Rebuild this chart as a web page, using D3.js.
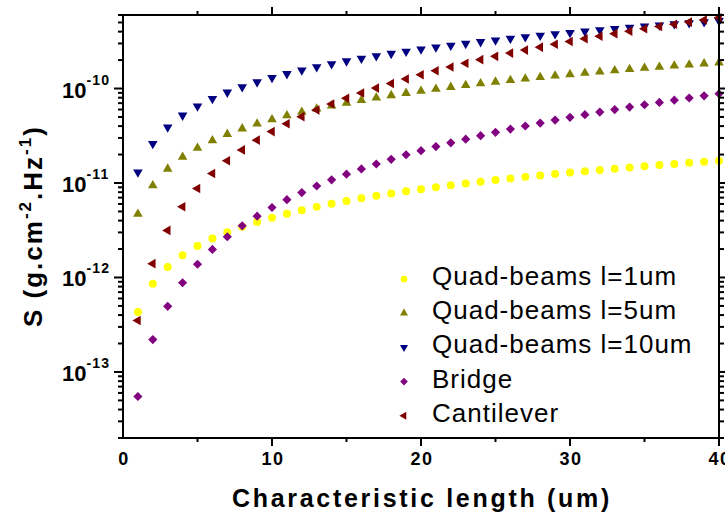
<!DOCTYPE html>
<html>
<head>
<meta charset="utf-8">
<script src="https://cdn.jsdelivr.net/npm/d3@7"></script>
<style>
  html, body { margin: 0; padding: 0; background: #fff; }
  svg { display: block; }
  text { font-family: Arial, "Liberation Sans", sans-serif; fill: #000; }
</style>
</head>
<body>
<svg id="chart" width="725" height="517"></svg>
<script>
// ---------- data ----------
const lengths = [1,2,3,4,5,6,7,8,9,10,11,12,13,14,15,16,17,18,19,20,
                 21,22,23,24,25,26,27,28,29,30,31,32,33,34,35,36,37,38,39,40];

const quadL1 = [4.3e-13,8.6e-13,1.29e-12,1.72e-12,2.15e-12,2.58e-12,3.01e-12,3.44e-12,3.87e-12,4.3e-12,
                4.73e-12,5.16e-12,5.59e-12,6.02e-12,6.45e-12,6.88e-12,7.31e-12,7.74e-12,8.17e-12,8.6e-12,
                9.03e-12,9.46e-12,9.89e-12,1.032e-11,1.075e-11,1.118e-11,1.161e-11,1.204e-11,1.247e-11,1.29e-11,
                1.333e-11,1.376e-11,1.419e-11,1.462e-11,1.505e-11,1.548e-11,1.591e-11,1.634e-11,1.677e-11,1.72e-11];

const quadL5 = [4.7e-12,9.4e-12,1.41e-11,1.88e-11,2.35e-11,2.82e-11,3.29e-11,3.76e-11,4.23e-11,4.7e-11,
                5.17e-11,5.64e-11,6.11e-11,6.58e-11,7.05e-11,7.52e-11,7.99e-11,8.46e-11,8.93e-11,9.4e-11,
                9.87e-11,1.034e-10,1.081e-10,1.128e-10,1.175e-10,1.222e-10,1.269e-10,1.316e-10,1.363e-10,1.41e-10,
                1.457e-10,1.504e-10,1.551e-10,1.598e-10,1.645e-10,1.692e-10,1.739e-10,1.786e-10,1.833e-10,1.88e-10];

const quadL10 = [1.3e-11,2.6e-11,3.9e-11,5.2e-11,6.5e-11,7.8e-11,9.1e-11,1.04e-10,1.17e-10,1.3e-10,
                 1.43e-10,1.56e-10,1.69e-10,1.82e-10,1.95e-10,2.08e-10,2.21e-10,2.34e-10,2.47e-10,2.6e-10,
                 2.73e-10,2.86e-10,2.99e-10,3.12e-10,3.25e-10,3.38e-10,3.51e-10,3.64e-10,3.77e-10,3.9e-10,
                 4.03e-10,4.16e-10,4.29e-10,4.42e-10,4.55e-10,4.68e-10,4.81e-10,4.94e-10,5.07e-10,5.2e-10];

const bridge = [5.5e-14,2.2e-13,4.95e-13,8.8e-13,1.38e-12,1.98e-12,2.70e-12,3.52e-12,4.46e-12,5.5e-12,
                6.66e-12,7.92e-12,9.30e-12,1.08e-11,1.24e-11,1.41e-11,1.59e-11,1.78e-11,1.99e-11,2.2e-11,
                2.43e-11,2.66e-11,2.91e-11,3.17e-11,3.44e-11,3.72e-11,4.01e-11,4.31e-11,4.63e-11,4.95e-11,
                5.29e-11,5.63e-11,5.99e-11,6.36e-11,6.74e-11,7.13e-11,7.53e-11,7.94e-11,8.37e-11,8.8e-11];

const cantilever = [3.5e-13,1.4e-12,3.15e-12,5.6e-12,8.75e-12,1.26e-11,1.72e-11,2.24e-11,2.84e-11,3.5e-11,
                    4.24e-11,5.04e-11,5.92e-11,6.86e-11,7.88e-11,8.96e-11,1.01e-10,1.13e-10,1.26e-10,1.4e-10,
                    1.54e-10,1.69e-10,1.85e-10,2.02e-10,2.19e-10,2.37e-10,2.55e-10,2.74e-10,2.94e-10,3.15e-10,
                    3.36e-10,3.58e-10,3.81e-10,4.05e-10,4.29e-10,4.54e-10,4.79e-10,5.05e-10,5.32e-10,5.6e-10];

const seriesNames = ["Quad-beams l=1um","Quad-beams l=5um","Quad-beams l=10um","Bridge","Cantilever"];
const xTicks = [0,10,20,30,40];
const yTickExps = [-13,-12,-11,-10];
const xTitle = "Characteristic length (um)";

// ---------- styling ----------
const seriesStyle = [
  {values: quadL1,     color: "#FFFF00", type: "circle"},
  {values: quadL5,     color: "#808000", type: "up"},
  {values: quadL10,    color: "#000080", type: "down"},
  {values: bridge,     color: "#800080", type: "diamond"},
  {values: cantilever, color: "#800000", type: "left"}
];

const svg = d3.select("#chart");
const L = 123, R = 719, T = 15, B = 438;

const x = d3.scaleLinear().domain([0, 40]).range([L, R]);
const y = d3.scaleLog().domain([2e-14, 6e-10]).range([B, T]);

function symbolPath(type, scale) {
  const s = scale || 1;
  if (type === "circle") return d3.symbol(d3.symbolCircle, 50 * s)();
  if (type === "diamond") return d3.symbol(d3.symbolSquare, 42 * s)();
  return d3.symbol(d3.symbolTriangle, 40 * s)();
}
function symbolRot(type) {
  if (type === "diamond") return 45;
  if (type === "down") return 180;
  if (type === "left") return -90;
  return 0;
}

// ---------- markers ----------
const plot = svg.append("g");
seriesStyle.forEach((st) => {
  plot.append("g").selectAll("path")
    .data(lengths.map((l, i) => [l, st.values[i]]))
    .join("path")
    .attr("d", symbolPath(st.type))
    .attr("transform", d => `translate(${x(d[0])},${y(d[1])}) rotate(${symbolRot(st.type)})`)
    .attr("fill", st.color);
});

// ---------- axes ----------
const minorY = [];
for (let e = -14; e <= -10; e++) for (let m = 1; m <= 9; m++) {
  const v = m * Math.pow(10, e);
  if (v >= 2e-14 && v <= 6e-10) minorY.push(v);
}
const majorYVals = yTickExps.map(e => Math.pow(10, e));
const minorX = [5, 15, 25, 35];

const axisG = svg.append("g").attr("stroke", "#000").attr("stroke-width", 2).attr("fill", "none");
// frame
axisG.append("rect").attr("x", L).attr("y", T).attr("width", R - L).attr("height", B - T);

// bottom & top ticks
[ [B, 1], [T, -1] ].forEach(([yy, dir]) => {
  axisG.selectAll(null).data(xTicks.filter(t => t > 0)).join("line")
    .attr("x1", d => x(d)).attr("x2", d => x(d))
    .attr("y1", yy).attr("y2", yy + dir * 8);
  axisG.selectAll(null).data(minorX).join("line")
    .attr("x1", d => x(d)).attr("x2", d => x(d))
    .attr("y1", yy).attr("y2", yy + dir * 4);
});
// left & right ticks
[ [L, -1], [R, 1] ].forEach(([xx, dir]) => {
  axisG.selectAll(null).data(minorY.filter(v => !majorYVals.some(m => Math.abs(m - v) / m < 1e-6))).join("line")
    .attr("x1", xx).attr("x2", xx + dir * 5)
    .attr("y1", d => y(d)).attr("y2", d => y(d));
  axisG.selectAll(null).data(majorYVals).join("line")
    .attr("x1", xx).attr("x2", xx + dir * 9)
    .attr("y1", d => y(d)).attr("y2", d => y(d));
});

// x tick labels
svg.append("g").selectAll("text").data(xTicks).join("text")
  .attr("x", d => x(d) + 1)
  .attr("y", 465)
  .attr("text-anchor", "middle")
  .attr("font-size", 18).attr("font-weight", "bold")
  .attr("letter-spacing", 1.5)
  .text(d => d);

// y tick labels
const yl = svg.append("g").selectAll("text").data(yTickExps).join("text")
  .attr("x", 62)
  .attr("y", d => y(Math.pow(10, d)) + 9)
  .attr("font-weight", "bold");
yl.append("tspan").attr("font-size", 22).text("10");
yl.append("tspan").attr("font-size", 14).attr("dy", -13).attr("letter-spacing", 1.2).text(d => String(d));

// x title
svg.append("text")
  .attr("x", 232).attr("y", 507)
  .attr("font-size", 25).attr("font-weight", "bold")
  .attr("letter-spacing", 2.7)
  .text(xTitle);

// y title
const yt = svg.append("text")
  .attr("transform", "translate(42,327) rotate(-90)")
  .attr("font-size", 26).attr("font-weight", "bold")
  .attr("letter-spacing", 2);
yt.append("tspan").text("S (g.cm");
yt.append("tspan").attr("font-size", 17).attr("dy", -11).text("-2");
yt.append("tspan").attr("dy", 11).text(".Hz");
yt.append("tspan").attr("font-size", 17).attr("dy", -11).text("-1");
yt.append("tspan").attr("dy", 11).text(")");

// legend
const legY = [285, 319.2, 353.4, 387.6, 421.8];
const leg = svg.append("g");
seriesStyle.forEach((st, i) => {
  leg.append("path")
    .attr("d", symbolPath(st.type, 0.7))
    .attr("transform", `translate(404,${legY[i] - 6}) rotate(${symbolRot(st.type)})`)
    .attr("fill", st.color);
  leg.append("text")
    .attr("x", 432).attr("y", legY[i])
    .attr("font-size", 26)
    .attr("letter-spacing", 1)
    .text(seriesNames[i]);
});
</script>
</body>
</html>
